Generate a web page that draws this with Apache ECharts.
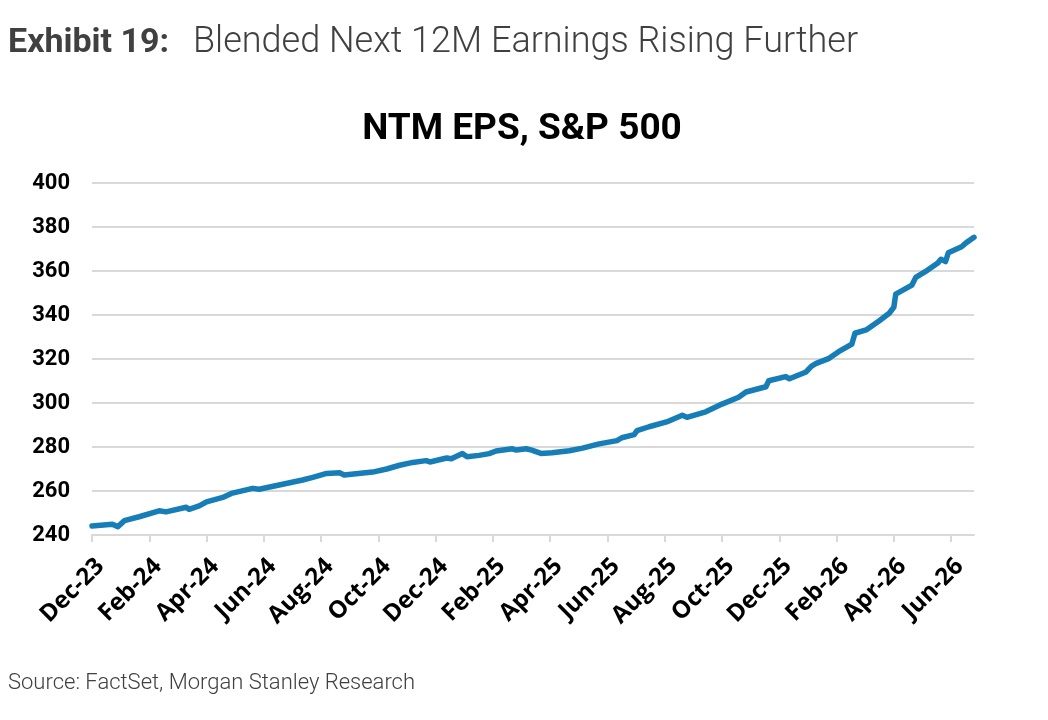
<!DOCTYPE html>
<html><head><meta charset="utf-8">
<script src="https://cdn.jsdelivr.net/npm/echarts@6/dist/echarts.min.js"></script>
<style>html,body{margin:0;padding:0;background:#fff}#c{width:1048px;height:720px}</style>
</head><body><div id="c"></div>
<script>
const dates = ['2023-12-01','2023-12-23','2023-12-29','2024-01-05','2024-01-21','2024-02-11','2024-02-18','2024-03-10','2024-03-13','2024-03-24',
'2024-04-01','2024-04-18','2024-04-27','2024-05-20','2024-05-27','2024-06-17','2024-07-12','2024-07-23','2024-08-07','2024-08-21',
'2024-08-26','2024-09-25','2024-10-10','2024-10-24','2024-11-07','2024-11-21','2024-11-25','2024-12-13','2024-12-18','2024-12-30',
'2025-01-04','2025-01-17','2025-01-28','2025-02-04','2025-02-20','2025-02-24','2025-03-06','2025-03-12','2025-03-22','2025-04-03',
'2025-04-21','2025-05-05','2025-05-23','2025-06-11','2025-06-16','2025-06-29','2025-07-02','2025-07-15','2025-08-03','2025-08-20',
'2025-08-25','2025-09-14','2025-10-01','2025-10-19','2025-10-27','2025-11-17','2025-11-20','2025-12-08','2025-12-12','2025-12-30',
'2026-01-05','2026-01-10','2026-01-24','2026-02-03','2026-02-16','2026-02-19','2026-03-02','2026-03-16','2026-03-27','2026-04-01',
'2026-04-03','2026-04-11','2026-04-20','2026-04-24','2026-05-04','2026-05-18','2026-05-21','2026-05-26','2026-05-29','2026-06-12',
'2026-06-17','2026-06-25'];
const epsValues = [244.1,244.9,243.8,246.5,248.3,251.0,250.5,252.6,251.7,253.2,
255.1,257.1,258.9,261.2,260.8,262.7,265.0,266.2,268.0,268.3,
267.3,268.6,270.0,271.7,273.0,273.8,273.2,275.0,274.7,277.0,
275.6,276.2,277.0,278.2,279.2,278.6,279.2,278.6,277.1,277.4,
278.3,279.5,281.4,282.9,284.2,285.6,287.4,289.2,291.4,294.4,
293.5,296.0,299.5,302.6,305.0,307.4,310.1,312.0,311.0,314.1,
316.8,318.0,320.3,323.3,326.8,331.7,333.2,337.3,340.8,343.5,
349.5,351.4,353.6,357.1,359.7,363.8,365.3,364.3,368.3,371.0,
372.9,375.3];
const monthNames = ['Jan','Feb','Mar','Apr','May','Jun','Jul','Aug','Sep','Oct','Nov','Dec'];
const yTicks = [240,260,280,300,320,340,360,380,400];
const startYear = 2023, startMonth = 12;
const axisEnd = '2026-06-25';

function toMonthIndex(s){
  const [y,m,d] = s.split('-').map(Number);
  const dim = new Date(y, m, 0).getDate();
  return (y-startYear)*12 + (m-startMonth) + (d-1)/dim;
}
function labelFor(idx){
  const total = (startMonth-1) + Math.round(idx);
  const y = startYear + Math.floor(total/12);
  const m = total % 12;
  return monthNames[m] + '-' + String(y).slice(2);
}
const seriesData = dates.map((d,i)=>[toMonthIndex(d), epsValues[i]]);

const chart = echarts.init(document.getElementById('c'));
chart.setOption({
  animation:false,
  backgroundColor:'#fff',
  title:[
    {text:'Exhibit 19:', left:3, top:21,
     textStyle:{fontFamily:'Roboto',fontWeight:'bold',fontSize:34,color:'#404040'}},
    {text:'Blended Next 12M Earnings Rising Further', left:188, top:20,
     textStyle:{fontFamily:'Roboto',fontWeight:300,fontSize:36,color:'#404040'}},
    {text:'NTM EPS, S&P 500', left:517, textAlign:'center', top:106,
     textStyle:{fontFamily:'Roboto',fontWeight:'bold',fontSize:37,color:'#000'}},
    {text:'Source: FactSet, Morgan Stanley Research', left:3, top:667,
     textStyle:{fontFamily:'Roboto',fontWeight:300,fontSize:22,color:'#404040'}}
  ],
  grid:{left:92, right:74, top:183, bottom:185, containLabel:false},
  xAxis:{type:'value', min:0, max:toMonthIndex(axisEnd), interval:2,
    axisLine:{show:true, lineStyle:{color:'#d9d9d9', width:2}},
    axisTick:{show:true, length:7, lineStyle:{color:'#d9d9d9', width:2}},
    splitLine:{show:false},
    axisLabel:{rotate:45, margin:19, align:'right', verticalAlign:'top', formatter:v=>labelFor(v),
      fontFamily:'Open Sans', fontWeight:'bold', fontSize:24, color:'#000'}},
  yAxis:{type:'value', min:yTicks[0], max:yTicks[yTicks.length-1], interval:20,
    axisLine:{show:false}, axisTick:{show:false},
    splitLine:{lineStyle:{color:'#d9d9d9', width:2}},
    axisLabel:{margin:22, fontFamily:'Roboto', fontWeight:'bold', fontSize:22, color:'#000'}},
  series:[{type:'line', data:seriesData, showSymbol:false, smooth:false,
    lineStyle:{color:'#167db6', width:5.5, cap:'round', join:'round'}}]
});
</script></body></html>
